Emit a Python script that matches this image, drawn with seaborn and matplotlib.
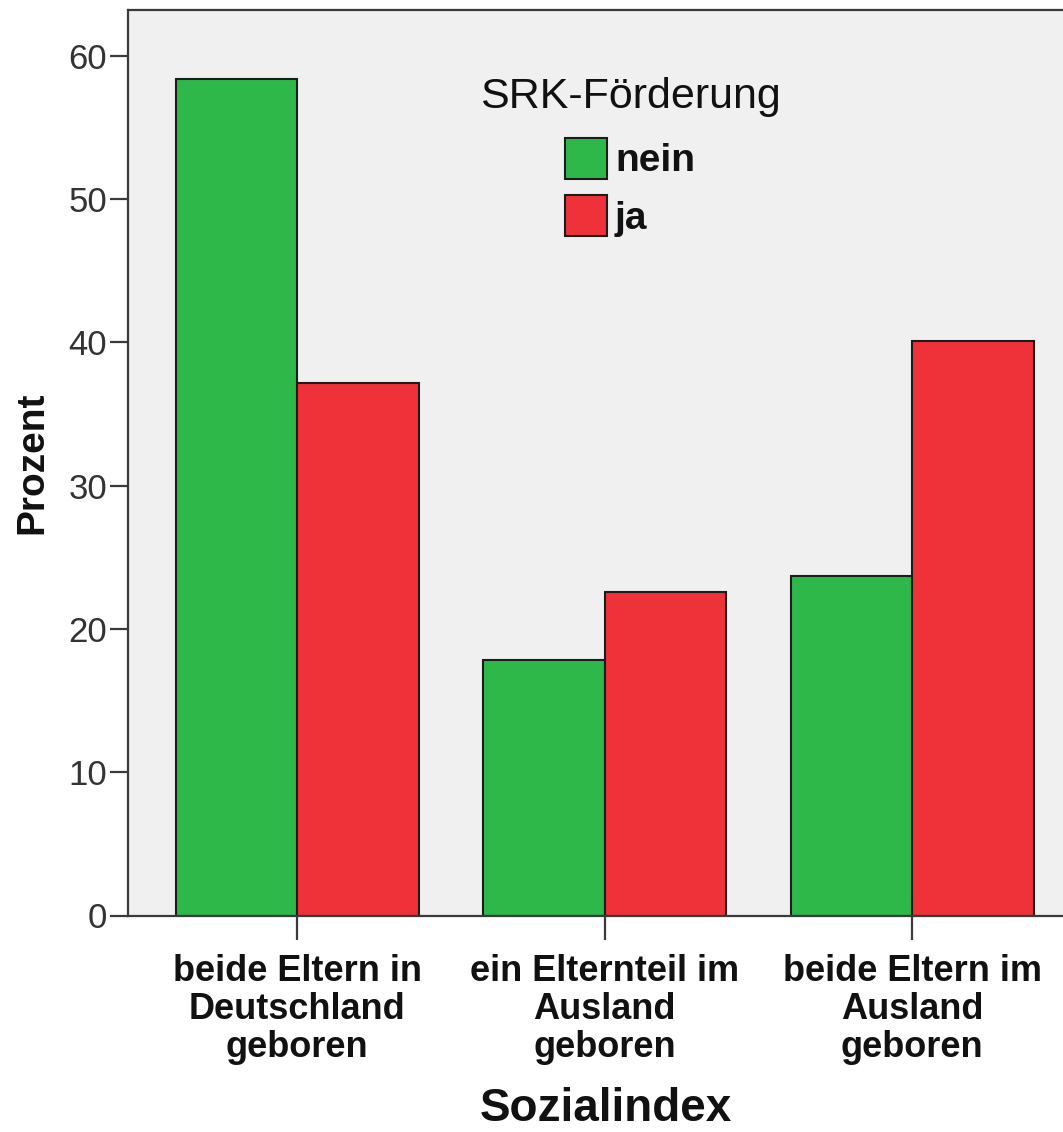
import pandas as pd
import numpy as np
import matplotlib.pyplot as plt
import seaborn as sns

# =========================
# DATA
# =========================

categories = ["beide Eltern in\nDeutschland\ngeboren",
              "ein Elternteil im\nAusland\ngeboren",
              "beide Eltern im\nAusland\ngeboren"]

groups = ["nein", "ja"]

nein_values = [58.4, 17.8, 23.7]
ja_values = [37.2, 22.6, 40.1]

df = pd.DataFrame({
    "Sozialindex": categories * 2,
    "SRK-Förderung": ["nein"] * 3 + ["ja"] * 3,
    "Prozent": nein_values + ja_values
})

# =========================
# STYLE
# =========================

sns.set_style("ticks")
plt.rcParams['font.family'] = ['Liberation Sans', 'DejaVu Sans']

W, H = 1063, 1132
fig = plt.figure(figsize=(W / 100, H / 100), dpi=100)

ax = fig.add_axes([128 / W, 1 - 915.5 / H, 1 - 128 / W, (915.5 - 10) / H])

# =========================
# BARS
# =========================

sns.barplot(
    data=df,
    x="Sozialindex",
    y="Prozent",
    hue="SRK-Förderung",
    hue_order=groups,
    palette={"nein": "#2eb84a", "ja": "#ef3139"},
    width=0.79,
    saturation=1,
    edgecolor="#1c1c1c",
    linewidth=1.5,
    ax=ax
)

ax.set_facecolor("#f0f0f0")
ax.set_xlim(-0.55, 2.49)
ax.set_ylim(0, 63.2)
ax.set_yticks([0, 10, 20, 30, 40, 50, 60])

for side in ["left", "bottom", "top"]:
    ax.spines[side].set_color("#3a3a3a")
    ax.spines[side].set_linewidth(1.6)
ax.spines["right"].set_visible(False)

ax.tick_params(axis="y", length=13, width=1.6, color="#3a3a3a",
               labelsize=25, labelcolor="#333333", pad=2)
ax.tick_params(axis="x", length=17, width=1.6, color="#3a3a3a",
               labelsize=26, labelcolor="#111111", pad=11)

for lab in ax.get_xticklabels():
    lab.set_fontweight("bold")
    lab.set_linespacing(1.1)

# =========================
# LABELS
# =========================

ax.set_xlabel("Sozialindex", fontsize=33, fontweight="bold", color="#111111")
ax.xaxis.set_label_coords(0.5 + (606 - 595.5) / 935, -0.189)

ax.set_ylabel("Prozent", fontsize=28, fontweight="bold", color="#111111")
ax.yaxis.set_label_coords((50 - 128) / 935, 0.5)

# =========================
# LEGEND
# =========================

handles, labels = ax.get_legend_handles_labels()
leg = ax.legend(
    handles, labels,
    title="SRK-Förderung",
    loc="upper center",
    bbox_to_anchor=(0.537, 0.965),
    frameon=False,
    prop={"weight": "bold", "size": 28},
    title_fontsize=31,
    handlelength=1.08,
    handleheight=1.245,
    handletextpad=0.2,
    labelspacing=0.41
)
leg.get_title().set_color("#111111")
for t in leg.get_texts():
    t.set_color("#111111")
# gap between the title and the entries
leg._legend_box.sep = 15

plt.savefig("out.png", dpi=100)
